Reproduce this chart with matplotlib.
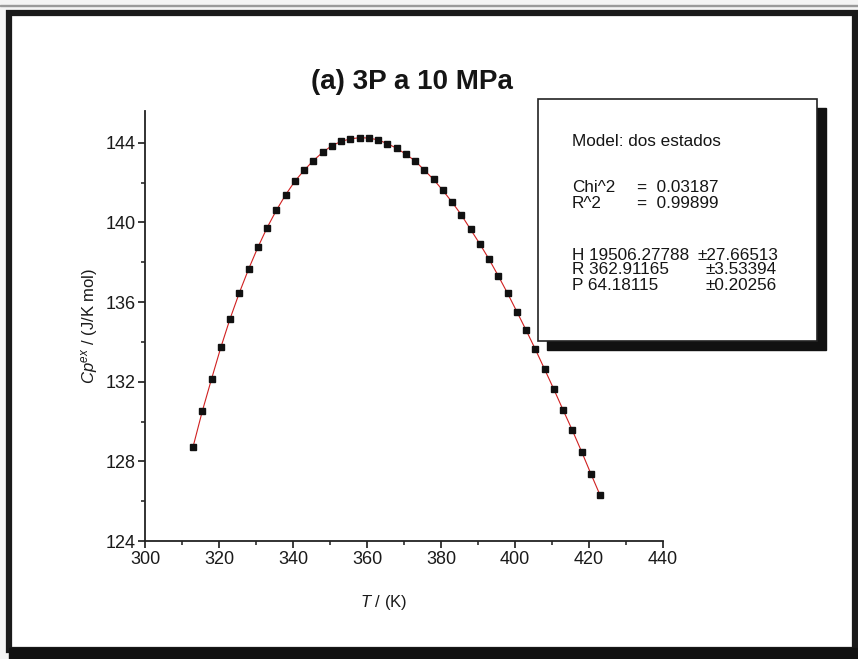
import matplotlib.pyplot as plt
from matplotlib.patches import Rectangle
from matplotlib.ticker import MultipleLocator

# measured heat capacity, two-state model fit
temp_k = [313.0, 315.5, 318.0, 320.5, 323.0, 325.5, 328.0, 330.5, 333.0, 335.5,
          338.0, 340.5, 343.0, 345.5, 348.0, 350.5, 353.0, 355.5, 358.0, 360.5,
          363.0, 365.5, 368.0, 370.5, 373.0, 375.5, 378.0, 380.5, 383.0, 385.5,
          388.0, 390.5, 393.0, 395.5, 398.0, 400.5, 403.0, 405.5, 408.0, 410.5,
          413.0, 415.5, 418.0, 420.5, 423.0]
cp = [128.74, 130.53, 132.15, 133.73, 135.17, 136.47, 137.66, 138.75, 139.74, 140.61,
      141.39, 142.07, 142.62, 143.11, 143.52, 143.86, 144.07, 144.20, 144.26, 144.24,
      144.15, 143.96, 143.73, 143.43, 143.09, 142.63, 142.16, 141.61, 141.02, 140.38,
      139.65, 138.92, 138.15, 137.31, 136.44, 135.52, 134.59, 133.63, 132.63, 131.62,
      130.58, 129.56, 128.49, 127.38, 126.30]

fit_lines = [
    ("Model: dos estados", None, None),
    ("Chi^2", "=  0.03187", None),
    ("R^2", "=  0.99899", None),
    ("H 19506.27788", None, "\u00b127.66513"),
    ("R 362.91165", None, "\u00b13.53394"),
    ("P 64.18115", None, "\u00b10.20256"),
]

plt.rcParams['font.family'] = ['Liberation Sans', 'DejaVu Sans']
plt.rcParams['mathtext.fontset'] = 'custom'
plt.rcParams['mathtext.rm'] = 'Liberation Sans'
plt.rcParams['mathtext.it'] = 'Liberation Sans:italic'

W, H = 858, 659
def fx(px):
    return px / W
def fy(py):
    return 1 - py / H

fig = plt.figure(figsize=(W / 100, H / 100), dpi=100, facecolor='#f4f4f4')

# page frame
fig.patches.append(Rectangle((0, fy(6)), 1, 0.002, transform=fig.transFigure,
                             color='#9a9a9a', zorder=0))
fig.patches.append(Rectangle((fx(9), fy(650)), fx(846), fy(13) - fy(650),
                             transform=fig.transFigure, facecolor='white',
                             edgecolor='#1a1a1a', lw=4.5, zorder=0))
fig.patches.append(Rectangle((fx(9), 0), 1, fy(648), transform=fig.transFigure,
                             color='#111111', zorder=0))

ax = fig.add_axes([fx(145), fy(541), fx(663) - fx(145), fy(111) - fy(541)])
ax.set_zorder(2)
ax.set_facecolor('none')
ax.plot(temp_k, cp, color='#d02020', lw=0.8, zorder=2)
ax.plot(temp_k, cp, ls='none', marker='s', ms=4.9, color='#111111', zorder=3)

ax.set_xlim(300, 440)
ax.set_ylim(124, 145.6)
ax.xaxis.set_major_locator(MultipleLocator(20))
ax.xaxis.set_minor_locator(MultipleLocator(10))
ax.yaxis.set_major_locator(MultipleLocator(4))
ax.yaxis.set_minor_locator(MultipleLocator(2))
for side in ['top', 'right']:
    ax.spines[side].set_visible(False)
for side in ['left', 'bottom']:
    ax.spines[side].set_linewidth(1.3)
    ax.spines[side].set_color('#222222')
ax.tick_params(which='major', length=5, width=1.2, labelsize=13, colors='#1a1a1a', pad=2)
ax.tick_params(which='minor', length=3, width=1.1, colors='#1a1a1a')

ax.set_xlabel(r'$T$ / (K)', fontsize=12, color='#1a1a1a')
ax.set_ylabel(r'$Cp^{ex}$ / (J/K mol)', fontsize=12, color='#1a1a1a')
ax.xaxis.set_label_coords(0.46, -0.122)
ax.yaxis.set_label_coords(-0.087, 0.5)

fig.text(fx(412), fy(82), "(a) 3P a 10 MPa", ha='center', va='center',
         fontsize=20, fontweight='bold', color='#151515')

# fit results box with drop shadow
fig.patches.append(Rectangle((fx(547), fy(350)), fx(826) - fx(547), fy(108) - fy(350),
                             transform=fig.transFigure, color='#111111', zorder=4))
fig.patches.append(Rectangle((fx(538), fy(341)), fx(817) - fx(538), fy(99) - fy(341),
                             transform=fig.transFigure, facecolor='white',
                             edgecolor='#222222', lw=1.2, zorder=5))

rows_y = [142, 188, 203, 255, 270, 285]
err_x = [None, None, None, 697, 706, 706]
for (left, mid, err), py, ex in zip(fit_lines, rows_y, err_x):
    fig.text(fx(572), fy(py), left, fontsize=12.3, va='center', color='#151515', zorder=6)
    if mid:
        fig.text(fx(637), fy(py), mid, fontsize=12.3, va='center', color='#151515', zorder=6)
    if err:
        fig.text(fx(ex), fy(py), err, fontsize=12.3, va='center', color='#151515', zorder=6)

fig.savefig('out.png', dpi=100, facecolor=fig.get_facecolor())
